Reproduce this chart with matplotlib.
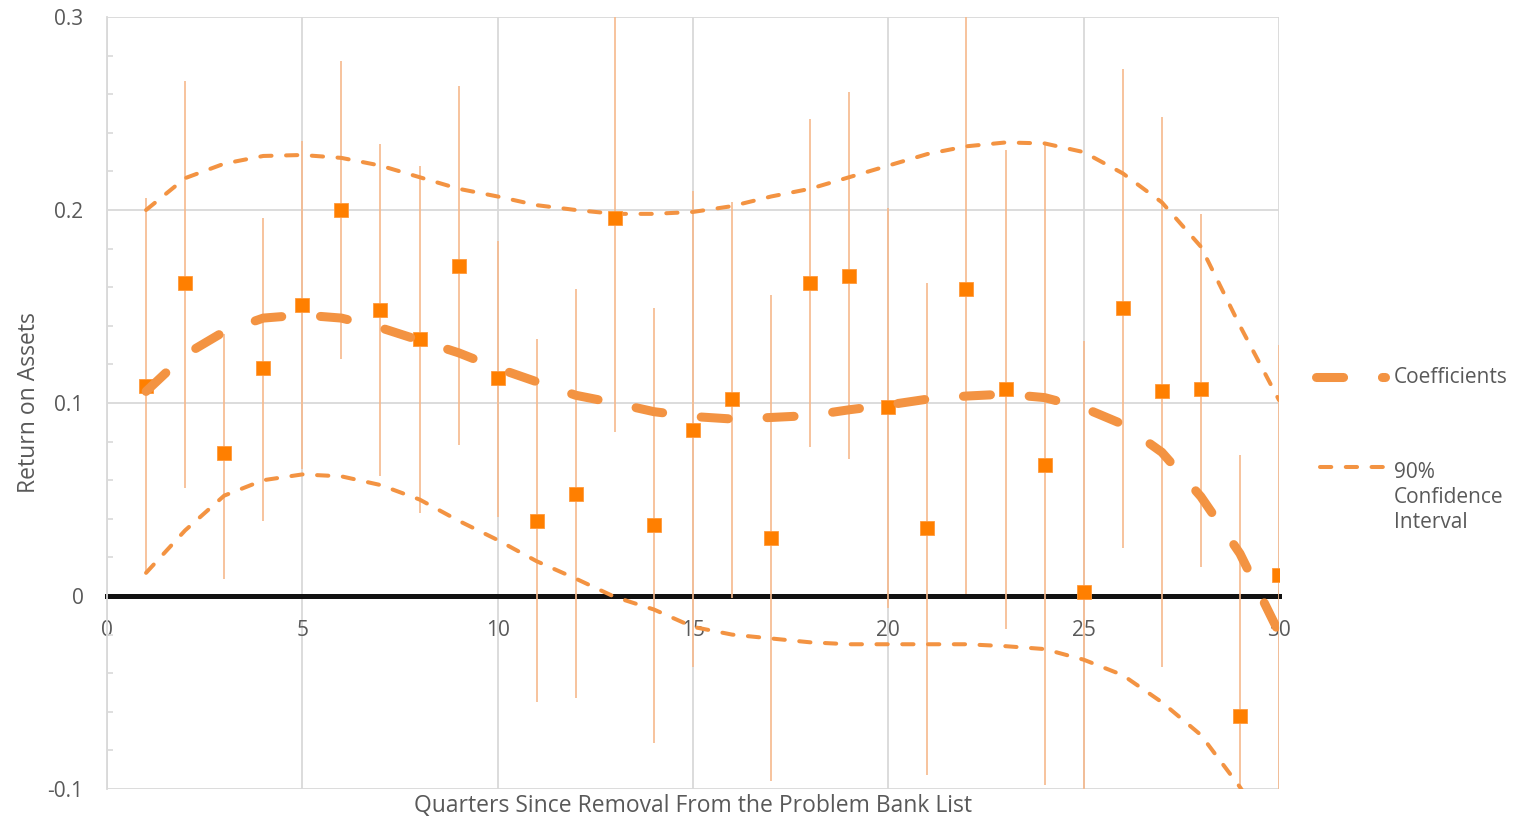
import matplotlib
matplotlib.use("Agg")
import matplotlib.pyplot as plt
from matplotlib.lines import Line2D
from matplotlib.ticker import MultipleLocator

plt.rcParams["font.family"] = ["Open Sans", "DejaVu Sans"]

ORANGE = "#ff7f00"
TREND = "#f39342"
BAR = "#f6b98c"
GRID = "#d9d9d9"
TXT = "#595959"

quarters = list(range(1, 31))
coef = [0.109, 0.162, 0.074, 0.118, 0.151, 0.200, 0.148, 0.133, 0.171, 0.113,
        0.039, 0.053, 0.196, 0.037, 0.086, 0.102, 0.030, 0.162, 0.166, 0.098,
        0.035, 0.159, 0.107, 0.068, 0.002, 0.149, 0.106, 0.107, -0.062, 0.011]
err_hi = [0.206, 0.267, 0.136, 0.196, 0.236, 0.277, 0.234, 0.223, 0.264, 0.184,
          0.133, 0.159, 0.307, 0.149, 0.210, 0.204, 0.156, 0.247, 0.261, 0.201,
          0.162, 0.317, 0.231, 0.234, 0.132, 0.273, 0.248, 0.198, 0.073, 0.130]
err_lo = [0.012, 0.056, 0.009, 0.039, 0.066, 0.123, 0.062, 0.043, 0.078, 0.041,
          -0.055, -0.053, 0.085, -0.076, -0.037, -0.001, -0.096, 0.077, 0.071, -0.006,
          -0.093, 0.001, -0.017, -0.098, -0.128, 0.025, -0.037, 0.015, -0.196, -0.108]
trend = [0.106, 0.125, 0.137, 0.144, 0.1456, 0.144, 0.139, 0.1325, 0.126, 0.118,
         0.111, 0.104, 0.100, 0.0955, 0.093, 0.0917, 0.0925, 0.0935, 0.0965, 0.099,
         0.102, 0.1036, 0.1046, 0.1028, 0.0975, 0.089, 0.0745, 0.0515, 0.022, -0.019]
ci_upper = [0.200, 0.2165, 0.224, 0.228, 0.2285, 0.227, 0.223, 0.217, 0.211, 0.207,
            0.2025, 0.200, 0.198, 0.198, 0.199, 0.202, 0.207, 0.211, 0.217, 0.223,
            0.229, 0.233, 0.235, 0.2345, 0.230, 0.219, 0.204, 0.181, 0.140, 0.1015]
ci_lower = [0.012, 0.034, 0.052, 0.060, 0.063, 0.062, 0.0575, 0.050, 0.039, 0.029,
            0.018, 0.009, -0.0005, -0.007, -0.016, -0.020, -0.022, -0.024, -0.025, -0.025,
            -0.025, -0.025, -0.026, -0.0275, -0.033, -0.041, -0.055, -0.072, -0.099, -0.13]

W, H = 1516, 818
fig = plt.figure(figsize=(W / 100, H / 100), dpi=100)
ax = fig.add_axes([107 / W, 1 - 789 / H, (1279 - 107) / W, (789 - 17) / H])

ax.set_xlim(0, 30)
ax.set_ylim(-0.1, 0.3)
ax.xaxis.set_major_locator(MultipleLocator(5))
ax.yaxis.set_major_locator(MultipleLocator(0.1))
ax.yaxis.set_minor_locator(MultipleLocator(0.02))
ax.grid(True, which="major", color=GRID, lw=1.3, zorder=0.5)
ax.set_axisbelow(True)

for s in ("top", "right"):
    ax.spines[s].set_visible(False)
ax.spines["left"].set_color(GRID)
ax.spines["left"].set_linewidth(1.3)
ax.spines["bottom"].set_position(("data", 0))
ax.spines["bottom"].set_color("#111111")
ax.spines["bottom"].set_linewidth(3.6)
ax.spines["bottom"].set_zorder(0.8)

ax.tick_params(axis="x", length=0, pad=17, labelsize=15, labelcolor=TXT)
ax.tick_params(axis="y", which="major", length=0, pad=17, labelsize=15, labelcolor=TXT)
ax.tick_params(axis="y", which="minor", direction="in", length=4, width=1.2, color=GRID)
ax.set_yticks([-0.1, 0, 0.1, 0.2, 0.3])
ax.set_yticklabels(["-0.1", "0", "0.1", "0.2", "0.3"])

# confidence bands on each coefficient
ax.vlines(quarters, err_lo, err_hi, color=BAR, lw=1.2, zorder=1)

# fitted curve with its 90% band
ax.plot(quarters, ci_upper, color=TREND, lw=2.9, dashes=(2.8, 3.6),
        dash_capstyle="round", zorder=2)
ax.plot(quarters, ci_lower, color=TREND, lw=2.9, dashes=(2.8, 3.6),
        dash_capstyle="round", zorder=2)
ax.plot(quarters, coef, ls="none", marker="s", ms=10.5, color=ORANGE,
        mec="#ff9a3c", mew=0.6, zorder=3)
ax.plot(quarters, trend, color=TREND, lw=6.5, dashes=(3.0, 4.3),
        dash_capstyle="round", solid_capstyle="round", zorder=4)

ax.set_xlabel("Quarters Since Removal From the Problem Bank List", fontsize=16.5, color=TXT)
ax.xaxis.set_label_coords(0.5, -0.007)
ax.set_ylabel("Return on Assets", fontsize=16.5, color=TXT)
ax.yaxis.set_label_coords(-0.056, 0.5)

# legend drawn by hand so the band sample lines up with the first text line
fx = lambda px: px / W
fy = lambda py: 1 - py / H
fig.add_artist(Line2D([fx(1316), fx(1385)], [fy(377), fy(377)], color=TREND, lw=6.5,
                      dashes=(3.0, 4.3), dash_capstyle="round"))
fig.add_artist(Line2D([fx(1320), fx(1389)], [fy(467), fy(467)], color=TREND, lw=2.9,
                      dashes=(2.8, 3.6), dash_capstyle="round"))
fig.text(fx(1394), fy(377), "Coefficients", fontsize=15, color=TXT, va="center", ha="left")
fig.text(fx(1394), fy(497), "90%\nConfidence\nInterval", fontsize=15, color=TXT,
         va="center", ha="left", linespacing=1.25)

fig.savefig("out.png", dpi=100)
